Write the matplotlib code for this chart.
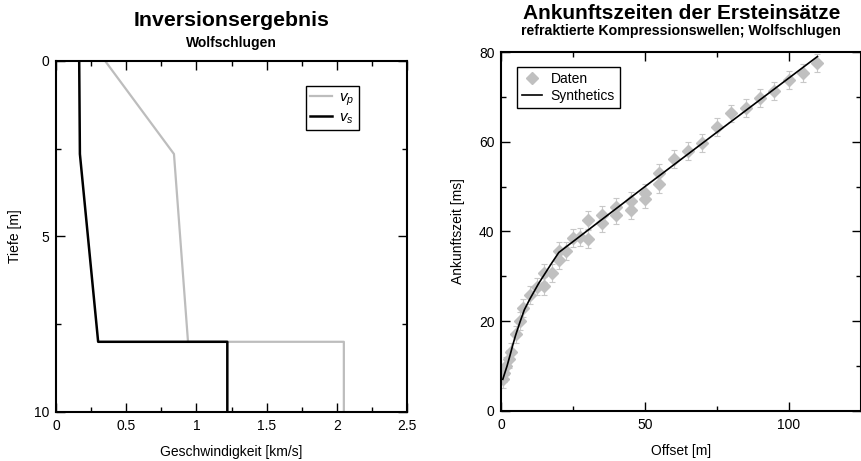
import matplotlib
matplotlib.use("Agg")
import matplotlib.pyplot as plt
from matplotlib.ticker import MultipleLocator

plt.rcParams['font.family'] = ['Liberation Sans', 'DejaVu Sans']
plt.rcParams['mathtext.fontset'] = 'custom'
plt.rcParams['mathtext.it'] = 'Liberation Sans:italic'
plt.rcParams['mathtext.rm'] = 'Liberation Sans'

# ── velocity model (depth in m, velocity in km/s) ─────────────────────────────
depth_p = [0.0, 2.65, 8.0, 8.0, 10.0]
vel_p   = [0.35, 0.84, 0.94, 2.05, 2.05]
depth_s = [0.0, 2.65, 8.0, 8.0, 10.0]
vel_s   = [0.165, 0.17, 0.30, 1.22, 1.22]

# ── first arrivals (offset in m, time in ms) ──────────────────────────────────
offset = [0.5, 1.0, 1.5, 2.5, 3.5, 5.0, 6.5, 7.5, 10.0, 12.5, 15.0, 15.0,
          17.5, 20.0, 20.0, 22.5, 25.0, 27.5, 30.0, 30.0, 35.0, 35.0, 40.0,
          40.0, 45.0, 45.0, 50.0, 50.0, 55.0, 55.0, 60.0, 65.0, 70.0, 75.0,
          80.0, 85.0, 90.0, 95.0, 100.0, 105.0, 110.0]
t_obs  = [7.0, 8.5, 10.0, 11.5, 13.2, 17.0, 20.0, 23.0, 25.8, 27.7, 27.8, 30.7,
          30.7, 33.7, 35.7, 35.7, 38.5, 38.8, 42.5, 38.3, 43.7, 41.8, 45.5,
          43.7, 46.7, 44.8, 48.5, 47.2, 53.0, 50.5, 56.2, 58.0, 59.8, 63.2,
          66.3, 67.5, 69.7, 71.3, 73.8, 75.3, 77.5]
t_err  = 2.0

syn_x = [0.5, 1.0, 2.0, 3.0, 4.0, 5.0, 6.5, 8.0, 10.0, 13.0, 15.0, 17.5, 20.0,
         30.0, 50.0, 75.0, 110.0]
syn_t = [7.0, 8.0, 10.0, 12.3, 14.7, 16.9, 19.8, 22.5, 25.0, 28.4, 30.4, 32.9,
         35.3, 40.2, 50.0, 62.1, 79.0]

fig = plt.figure(figsize=(8.62, 4.61), dpi=100)
ax1 = fig.add_axes([0.065, 0.1063, 0.4072, 0.7614])
ax2 = fig.add_axes([0.5816, 0.1091, 0.4167, 0.778])


def style_axes(ax):
    for sp in ax.spines.values():
        sp.set_linewidth(1.5)
    ax.tick_params(which='both', direction='in', top=True, right=True,
                   labelsize=10, pad=5)
    ax.tick_params(which='major', length=6.5, width=1.0)
    ax.tick_params(which='minor', length=3.5, width=1.0)


# ── left: inversion result ────────────────────────────────────────────────────
ax1.plot(vel_p, depth_p, color='#bdbdbd', lw=1.6, label='$v_p$')
ax1.plot(vel_s, depth_s, color='black', lw=1.8, label='$v_s$')
ax1.set_xlim(0, 2.5)
ax1.set_ylim(10, 0)
ax1.xaxis.set_minor_locator(MultipleLocator(0.25))
ax1.yaxis.set_major_locator(MultipleLocator(5))
ax1.yaxis.set_minor_locator(MultipleLocator(2.5))
ax1.set_xticks([0, 0.5, 1, 1.5, 2, 2.5])
ax1.set_xticklabels(['0', '0.5', '1', '1.5', '2', '2.5'])
ax1.set_xlabel('Geschwindigkeit [km/s]', fontsize=10, labelpad=9)
ax1.set_ylabel('Tiefe [m]', fontsize=10, va='center')
ax1.yaxis.set_label_coords(-0.117, 0.5)
style_axes(ax1)
leg1 = ax1.legend(loc='upper right', bbox_to_anchor=(0.863, 0.929),
                  fontsize=11, handlelength=1.4, handletextpad=0.5,
                  fancybox=False, edgecolor='black', framealpha=1,
                  borderpad=0.3, labelspacing=0.15, borderaxespad=0)
leg1.get_frame().set_linewidth(1.0)
fig.text(0.2686, 0.9436, 'Inversionsergebnis', ha='center', va='baseline',
         fontsize=15.3, fontweight='bold')
fig.text(0.2686, 0.8988, 'Wolfschlugen', ha='center', va='baseline',
         fontsize=10, fontweight='bold')

# ── right: first-arrival travel times ─────────────────────────────────────────
ax2.errorbar(offset, t_obs, yerr=t_err, fmt='none', ecolor='#c8c8c8',
             elinewidth=0.8, capsize=2.5, capthick=0.8, zorder=1)
ax2.plot(offset, t_obs, ls='none', marker='D', ms=6.5, color='#c0c0c0',
         mec='#c0c0c0', label='Daten', zorder=2)
ax2.plot(syn_x, syn_t, color='black', lw=1.2, label='Synthetics', zorder=3)
ax2.set_xlim(0, 125)
ax2.set_ylim(0, 80)
ax2.xaxis.set_major_locator(MultipleLocator(50))
ax2.xaxis.set_minor_locator(MultipleLocator(25))
ax2.yaxis.set_major_locator(MultipleLocator(20))
ax2.yaxis.set_minor_locator(MultipleLocator(10))
ax2.set_xlabel('Offset [m]', fontsize=10, labelpad=9)
ax2.set_ylabel('Ankunftszeit [ms]', fontsize=10, va='center')
ax2.yaxis.set_label_coords(-0.12, 0.5)
style_axes(ax2)
leg2 = ax2.legend(loc='upper left', bbox_to_anchor=(0.044, 0.958),
                  fontsize=10, handlelength=1.45, handletextpad=0.6,
                  fancybox=False, edgecolor='black', framealpha=1,
                  borderpad=0.35, labelspacing=0.2, numpoints=1,
                  borderaxespad=0)
leg2.get_frame().set_linewidth(1.0)
fig.text(0.7903, 0.958, 'Ankunftszeiten der Ersteinsätze', ha='center',
         va='baseline', fontsize=15, fontweight='bold')
fig.text(0.7903, 0.924, 'refraktierte Kompressionswellen; Wolfschlugen',
         ha='center', va='baseline', fontsize=10.2, fontweight='bold')

fig.savefig('out.png', dpi=100)
